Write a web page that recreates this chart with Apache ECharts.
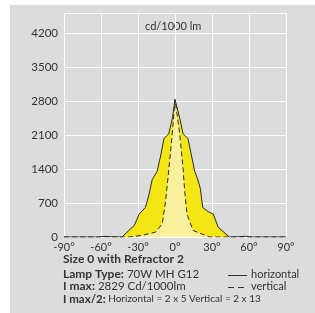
<!DOCTYPE html>
<html>
<head>
<meta charset="utf-8">
<script src="https://cdn.jsdelivr.net/npm/echarts@6/dist/echarts.min.js"></script>
<style>
  html, body { margin: 0; padding: 0; background: #fff; }
  #chart { width: 315px; height: 313px; }
</style>
</head>
<body>
<div id="chart"></div>
<script>
// horizontal plane (solid line)
const horizAngles = [-90, -62, -57, -52, -43, -33, -29, -24, -21, -18.5, -14.5, -11.5, -9, -5, -2, 0, 4, 6.5, 10.5, 13, 16, 18.5, 20.5, 22.5, 27, 31, 35, 44, 52, 57, 62, 90]
const horizValues = [0, 0, 15, 5, 0, 237, 473, 607, 878, 1181, 1349, 1687, 2023, 2125, 2460, 2829, 2430, 2125, 2023, 1720, 1349, 1181, 1000, 607, 520, 473, 202, 0, 5, 15, 0, 0]

// vertical plane (dashed line)
const vertAngles = [-90, -37, -26.5, -15.7, -10.3, -7.6, -4.9, -2.2, 0, 3.8, 6.5, 8, 9.7, 14.6, 28, 90]
const vertValues = [0, 0, 34, 101, 271, 742, 1416, 2125, 2829, 2125, 1416, 900, 473, 135, 0, 0]

const yTicks = [0, 700, 1400, 2100, 2800, 3500, 4200]

const font = 'Lato'
const textColor = '#333'
const boldRich = { b: { fontWeight: 'bold', fontSize: 12, fontFamily: font } }

let chart = echarts.init(document.getElementById('chart'))

const options = {
  animation: false,
  textStyle: { fontFamily: font },
  graphic: [
    {
      type: 'rect',
      z: -10,
      shape: { x: 10, y: 5, width: 305, height: 308 },
      style: { fill: '#dcdcdd' }
    },
    {
      type: 'text',
      left: 63, top: 253,
      style: { text: 'Size 0 with Refractor 2', font: 'bold 12px Lato', fill: textColor }
    },
    {
      type: 'text',
      left: 63, top: 268,
      style: { text: '{b|Lamp Type:} 70W MH G12', font: '11.5px Lato', fill: textColor, rich: boldRich }
    },
    {
      type: 'text',
      left: 63, top: 280,
      style: { text: '{b|I max:} 2829 Cd/1000lm', font: '11.5px Lato', fill: textColor, rich: boldRich }
    },
    {
      type: 'text',
      left: 63, top: 293,
      style: {
        text: '{b|I max/2:} Horizontal = 2 x 5 Vertical = 2 x 13',
        font: '10px Lato', fill: textColor,
        rich: { b: { fontWeight: 'bold', fontSize: 11.5, fontFamily: font } }
      }
    },
    {
      type: 'line',
      shape: { x1: 228, y1: 275.5, x2: 247, y2: 275.5 },
      style: { stroke: '#333', lineWidth: 1 }
    },
    {
      type: 'text',
      left: 251, top: 269,
      style: { text: 'horizontal', font: '11px Lato', fill: textColor }
    },
    {
      type: 'line',
      shape: { x1: 228, y1: 287.5, x2: 247, y2: 287.5 },
      style: { stroke: '#333', lineWidth: 1, lineDash: [6, 4] }
    },
    {
      type: 'text',
      left: 251, top: 281,
      style: { text: 'vertical', font: '11px Lato', fill: textColor }
    },
    {
      type: 'text',
      left: 145, top: 21,
      style: { text: 'cd/1000 lm', font: '11px Lato', fill: textColor }
    }
  ],
  grid: {
    left: 64,
    right: 29,
    top: 13,
    bottom: 76
  },
  xAxis: {
    type: 'value',
    min: -90,
    max: 90,
    interval: 30,
    axisLine: { show: false },
    axisTick: { show: false },
    splitLine: { lineStyle: { color: '#fff', width: 1 } },
    axisLabel: {
      margin: 5,
      color: textColor,
      fontSize: 11,
      fontFamily: font,
      formatter: '{value}°'
    }
  },
  yAxis: {
    type: 'value',
    min: 0,
    max: 4610,
    interval: 700,
    axisLine: { show: false },
    axisTick: { show: false },
    splitLine: { lineStyle: { color: '#fff', width: 1 } },
    axisLabel: {
      margin: 6,
      color: textColor,
      fontSize: 11.5,
      fontFamily: font,
      showMaxLabel: false,
      formatter: v => (yTicks.indexOf(v) >= 0 ? String(v) : '')
    }
  },
  series: [
    {
      name: 'horizontal',
      type: 'line',
      symbol: 'none',
      data: horizAngles.map((a, i) => [a, horizValues[i]]),
      lineStyle: { color: '#2a2a2a', width: 1 },
      areaStyle: { color: '#f4e514', opacity: 1 }
    },
    {
      name: 'vertical',
      type: 'line',
      symbol: 'none',
      data: vertAngles.map((a, i) => [a, vertValues[i]]),
      lineStyle: { color: '#2a2a2a', width: 1, type: [5, 3] },
      areaStyle: { color: '#f8f09c', opacity: 1 }
    }
  ]
}
chart.setOption(options)
</script>
</body>
</html>
